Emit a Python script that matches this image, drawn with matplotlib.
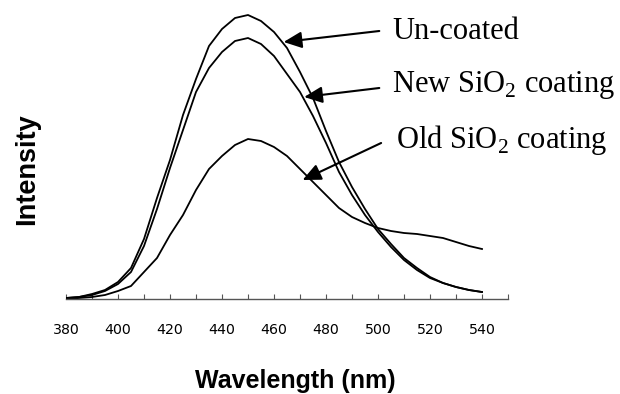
"""Emission spectra of un-coated and SiO2-coated samples."""

import numpy as np
import matplotlib
matplotlib.use('Agg')
from matplotlib import pyplot as plt

# wavelength grid (nm) and intensities (arbitrary units)
wavelength = np.arange(380, 545, 5)
uncoated = [1, 2, 5, 9, 17, 31, 60, 101, 139, 184, 220, 253, 270, 281, 284, 278, 267,
            251, 227, 201, 168, 137, 112, 90, 70, 55, 41, 31, 22, 16, 12, 9, 7]
new_sio2 = [1, 2, 4, 8, 15, 27, 53, 90, 131, 169, 207, 231, 247, 258, 261, 255, 243,
            225, 207, 183, 156, 127, 104, 84, 67, 52, 39, 29, 21, 16, 12, 9, 7]
old_sio2 = [0, 1, 2, 4, 8, 13, 27, 41, 64, 84, 109, 130, 143, 154, 160, 158, 152,
            143, 130, 117, 104, 91, 82, 76, 71, 68, 66, 65, 63, 61, 57, 53, 50]

tick_values = list(range(380, 551, 10))
tick_labels = [str(v) if v % 20 == 0 and v < 550 else '' for v in tick_values]

# label text, text position, arrow tail, arrow tip (data coords)
labels = ['Un-coated', r'New SiO$_\mathregular{2}$ coating', r'Old SiO$_\mathregular{2}$ coating']
label_pos = [(505.5, 259.7), (505.5, 207.3), (507.0, 150.7)]
arrow_tail = [(500.5, 268), (500.5, 211), (501.2, 156)]
arrow_tip = [(463.7, 257), (471.6, 202), (471.0, 119)]

fig = plt.figure(figsize=(6.2, 3.94), dpi=100)
ax = fig.add_axes([66 / 620, 95 / 394, 442 / 620, 299 / 394])

for series in (uncoated, new_sio2, old_sio2):
    ax.plot(wavelength, series, color='black', lw=1.3)

ax.set_xlim(380, 550)
ax.set_ylim(0, 299)
for side in ('left', 'right', 'top'):
    ax.spines[side].set_visible(False)
ax.spines['bottom'].set_color('#555555')
ax.spines['bottom'].set_linewidth(1.0)
ax.set_yticks([])
ax.set_xticks(tick_values)
ax.set_xticklabels(tick_labels, family='DejaVu Sans', fontsize=10.2)
ax.tick_params(axis='x', direction='in', length=3.5, color='#555555', pad=17)

for text, pos, tail, tip in zip(labels, label_pos, arrow_tail, arrow_tip):
    ax.text(pos[0], pos[1], text, family='Liberation Serif', fontsize=22,
            ha='left', va='baseline', clip_on=False)
    ax.annotate('', xy=tip, xytext=tail,
                arrowprops=dict(arrowstyle='-|>,head_length=1.1,head_width=0.5',
                                mutation_scale=10, lw=1.5, color='black',
                                shrinkA=0, shrinkB=0))

fig.text(295 / 620, 6 / 394, 'Wavelength (nm)', family='Liberation Sans',
         fontweight='bold', fontsize=18, ha='center', va='baseline')
fig.text(27 / 620, 1 - 169 / 394, 'Intensity', family='Liberation Sans',
         fontweight='bold', fontsize=19.5, ha='center', va='center', rotation=90)

plt.savefig('out.png', dpi=100)
